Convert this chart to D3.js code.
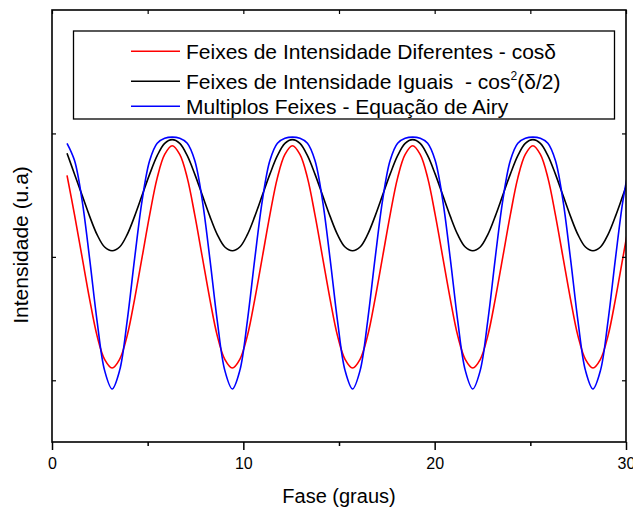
<!DOCTYPE html>
<html>
<head>
<meta charset="utf-8">
<script src="https://cdn.jsdelivr.net/npm/d3@7"></script>
<style>
  body { margin: 0; background: #fff; }
  svg { display: block; font-family: "Liberation Sans", Arial, sans-serif; }
</style>
</head>
<body>
<script>
// Phase values (x)
const phase = [
    0.785, 1.178, 1.571, 1.963, 2.356, 2.749, 3.142, 3.534, 3.927, 4.320, 4.712, 5.105, 5.498, 5.890, 6.283, 6.676,
    7.069, 7.461, 7.854, 8.247, 8.639, 9.032, 9.425, 9.817, 10.210, 10.603, 10.996, 11.388, 11.781, 12.174, 12.566, 12.959,
    13.352, 13.744, 14.137, 14.530, 14.923, 15.315, 15.708, 16.101, 16.493, 16.886, 17.279, 17.671, 18.064, 18.457, 18.850, 19.242,
    19.635, 20.028, 20.420, 20.813, 21.206, 21.598, 21.991, 22.384, 22.777, 23.169, 23.562, 23.955, 24.347, 24.740, 25.133, 25.525,
    25.918, 26.311, 26.704, 27.096, 27.489, 27.882, 28.274, 28.667, 29.060, 29.452, 29.845, 30.238
];

// Feixes de Intensidade Diferentes - cos(delta)
const redValues = [
    0.66, 0.34, 0.00, -0.34, -0.64, -0.83, -0.90, -0.83, -0.64, -0.34, 0.00, 0.34, 0.64, 0.83, 0.90, 0.83,
    0.64, 0.34, 0.00, -0.34, -0.64, -0.83, -0.90, -0.83, -0.64, -0.34, 0.00, 0.34, 0.64, 0.83, 0.90, 0.83,
    0.64, 0.34, 0.00, -0.34, -0.64, -0.83, -0.90, -0.83, -0.64, -0.34, 0.00, 0.34, 0.64, 0.83, 0.90, 0.83,
    0.64, 0.34, 0.00, -0.34, -0.64, -0.83, -0.90, -0.83, -0.64, -0.34, 0.00, 0.34, 0.64, 0.83, 0.90, 0.83,
    0.64, 0.34, 0.00, -0.34, -0.64, -0.83, -0.90, -0.83, -0.64, -0.34, 0.00, 0.34
];

// Feixes de Intensidade Iguais - cos^2(delta/2)
const blackValues = [
    0.84, 0.67, 0.50, 0.33, 0.18, 0.08, 0.05, 0.08, 0.18, 0.33, 0.50, 0.67, 0.82, 0.92, 0.95, 0.92,
    0.82, 0.67, 0.50, 0.33, 0.18, 0.08, 0.05, 0.08, 0.18, 0.33, 0.50, 0.67, 0.82, 0.92, 0.95, 0.92,
    0.82, 0.67, 0.50, 0.33, 0.18, 0.08, 0.05, 0.08, 0.18, 0.33, 0.50, 0.67, 0.82, 0.92, 0.95, 0.92,
    0.82, 0.67, 0.50, 0.33, 0.18, 0.08, 0.05, 0.08, 0.18, 0.33, 0.50, 0.67, 0.82, 0.92, 0.95, 0.92,
    0.82, 0.67, 0.50, 0.33, 0.18, 0.08, 0.05, 0.08, 0.18, 0.33, 0.50, 0.67
];

// Multiplos Feixes - Equacao de Airy
const blueValues = [
    0.92, 0.78, 0.46, -0.01, -0.52, -0.92, -1.07, -0.92, -0.52, -0.01, 0.46, 0.78, 0.92, 0.96, 0.97, 0.96,
    0.92, 0.78, 0.46, -0.01, -0.52, -0.92, -1.07, -0.92, -0.52, -0.01, 0.46, 0.78, 0.92, 0.96, 0.97, 0.96,
    0.92, 0.78, 0.46, -0.01, -0.52, -0.92, -1.07, -0.92, -0.52, -0.01, 0.46, 0.78, 0.92, 0.96, 0.97, 0.96,
    0.92, 0.78, 0.46, -0.01, -0.52, -0.92, -1.07, -0.92, -0.52, -0.01, 0.46, 0.78, 0.92, 0.96, 0.97, 0.96,
    0.92, 0.78, 0.46, -0.01, -0.52, -0.92, -1.07, -0.92, -0.52, -0.01, 0.46, 0.78
];

const xMajorTicks = [0, 10, 20, 30];
const xMinorTicks = [5, 15, 25];
const yTicks = [-1, 0, 1];

const width = 633, height = 509;
const plotLeft = 52, plotRight = 626, plotTop = 10, plotBottom = 442;

const svg = d3.select('body')
    .append('svg')
    .attr('width', width)
    .attr('height', height);

svg.append('rect')
    .attr('width', width)
    .attr('height', height)
    .attr('fill', '#fff');

const x = d3.scaleLinear().domain([0, 30]).range([plotLeft, plotRight]);
const y = d3.scaleLinear().domain([-1.5, 2]).range([plotBottom, plotTop]);

svg.append('clipPath')
    .attr('id', 'plot-clip')
    .append('rect')
    .attr('x', plotLeft)
    .attr('y', plotTop)
    .attr('width', plotRight - plotLeft)
    .attr('height', plotBottom - plotTop);

// Curves
const series = [
    { values: blackValues, color: '#000000' },
    { values: redValues, color: '#ff0000' },
    { values: blueValues, color: '#0000ff' }
];

const line = d3.line()
    .x(d => x(d[0]))
    .y(d => y(d[1]))
    .curve(d3.curveCatmullRom.alpha(0.5));

svg.append('g')
    .attr('clip-path', 'url(#plot-clip)')
    .selectAll('path')
    .data(series)
    .enter()
    .append('path')
    .attr('d', s => line(phase.map((p, i) => [p, s.values[i]])))
    .attr('fill', 'none')
    .attr('stroke', s => s.color)
    .attr('stroke-width', 1.6);

// Bottom axis: outward ticks with labels
const xAxis = d3.axisBottom(x)
    .tickValues(xMajorTicks)
    .tickSize(8)
    .tickPadding(8)
    .tickFormat(d3.format('d'));

const gx = svg.append('g')
    .attr('transform', `translate(0,${plotBottom})`)
    .call(xAxis);
gx.select('.domain').remove();
gx.selectAll('line').attr('stroke', '#000').attr('stroke-width', 1.5);
gx.selectAll('text')
    .attr('fill', '#000')
    .style('font-size', '16px')
    .style('font-family', '"Liberation Sans", Arial, sans-serif');

const gxMinor = svg.append('g')
    .attr('transform', `translate(0,${plotBottom})`)
    .call(d3.axisBottom(x).tickValues(xMinorTicks).tickSize(4).tickFormat(''));
gxMinor.select('.domain').remove();
gxMinor.selectAll('line').attr('stroke', '#000').attr('stroke-width', 1.5);

// Top axis: inward ticks
const gTop = svg.append('g')
    .attr('transform', `translate(0,${plotTop})`)
    .call(d3.axisBottom(x).tickValues(xMajorTicks.concat(xMinorTicks)).tickSize(4).tickFormat(''));
gTop.select('.domain').remove();
gTop.selectAll('line').attr('stroke', '#000').attr('stroke-width', 1.2);

// Left and right axes: inward ticks, no labels
const gLeft = svg.append('g')
    .attr('transform', `translate(${plotLeft},0)`)
    .call(d3.axisRight(y).tickValues(yTicks).tickSize(4).tickFormat(''));
gLeft.select('.domain').remove();
gLeft.selectAll('line').attr('stroke', '#000').attr('stroke-width', 1.2);

const gRight = svg.append('g')
    .attr('transform', `translate(${plotRight},0)`)
    .call(d3.axisLeft(y).tickValues(yTicks).tickSize(4).tickFormat(''));
gRight.select('.domain').remove();
gRight.selectAll('line').attr('stroke', '#000').attr('stroke-width', 1.2);

// Frame
svg.append('rect')
    .attr('x', plotLeft)
    .attr('y', plotTop)
    .attr('width', plotRight - plotLeft)
    .attr('height', plotBottom - plotTop)
    .attr('fill', 'none')
    .attr('stroke', '#000')
    .attr('stroke-width', 1.6);

// Axis titles
svg.append('text')
    .attr('x', (plotLeft + plotRight) / 2)
    .attr('y', 503)
    .attr('text-anchor', 'middle')
    .style('font-size', '20px')
    .text('Fase (graus)');

svg.append('text')
    .attr('transform', 'translate(28,245) rotate(-90)')
    .attr('text-anchor', 'middle')
    .style('font-size', '21px')
    .text('Intensidade (u.a)');

// Legend
const legend = svg.append('g').attr('id', 'legend');

legend.append('rect')
    .attr('x', 73.5)
    .attr('y', 31)
    .attr('width', 541)
    .attr('height', 88)
    .attr('fill', '#fff')
    .attr('stroke', '#000')
    .attr('stroke-width', 1.3);

const legendRows = [
    { color: '#ff0000', y: 58.7 },
    { color: '#000000', y: 88.7 },
    { color: '#0000ff', y: 113.7 }
];

legend.selectAll('line')
    .data(legendRows)
    .enter()
    .append('line')
    .attr('x1', 131)
    .attr('x2', 180)
    .attr('y1', d => d.y - 7.5)
    .attr('y2', d => d.y - 7.5)
    .attr('stroke', d => d.color)
    .attr('stroke-width', 1.6);

legend.append('text')
    .attr('x', 186)
    .attr('y', legendRows[0].y)
    .style('font-size', '21px')
    .text('Feixes de Intensidade Diferentes - cos\u03B4');

const row2 = legend.append('text')
    .attr('x', 186)
    .attr('y', legendRows[1].y)
    .style('font-size', '21px')
    .style('white-space', 'pre');
row2.append('tspan').text('Feixes de Intensidade Iguais  - cos');
row2.append('tspan').attr('dy', -9).style('font-size', '12px').text('2');
row2.append('tspan').attr('dy', 9).text('(\u03B4/2)');

legend.append('text')
    .attr('x', 186)
    .attr('y', legendRows[2].y)
    .style('font-size', '21px')
    .text('Multiplos Feixes - Equa\u00E7\u00E3o de Airy');
</script>
</body>
</html>
